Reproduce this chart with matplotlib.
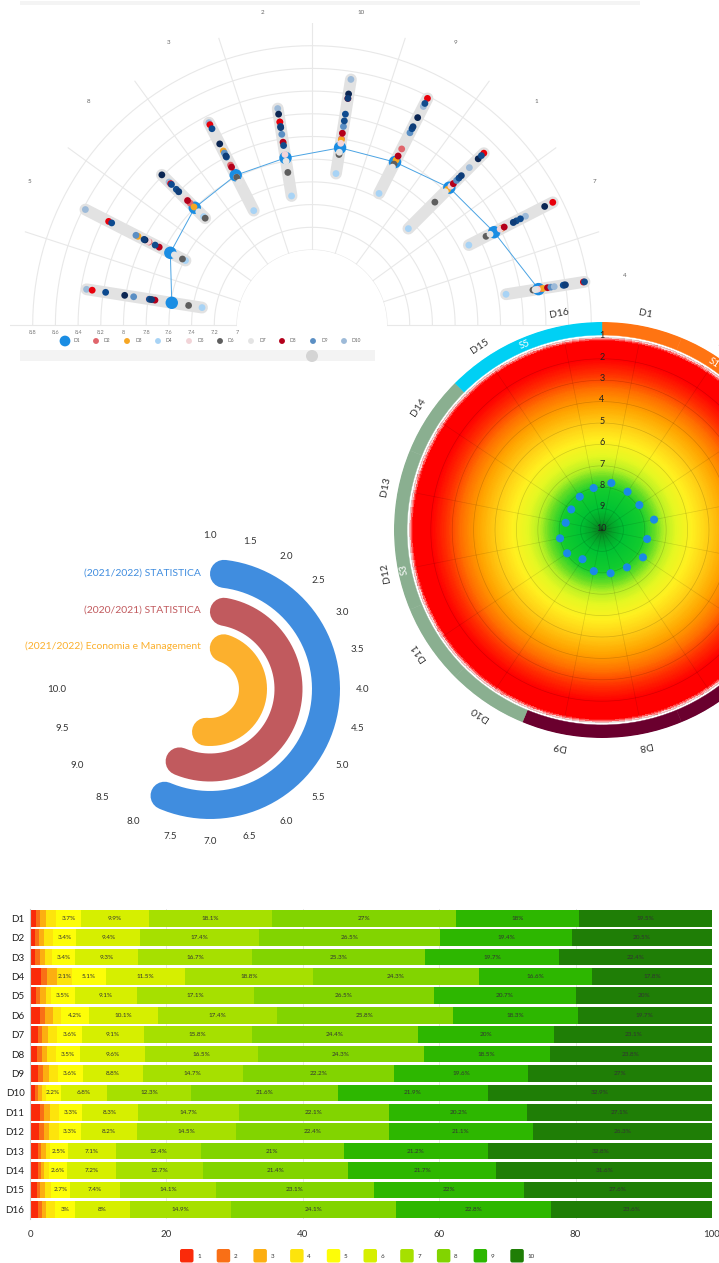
import numpy as np
import matplotlib
matplotlib.use('Agg')
import matplotlib.pyplot as plt
from matplotlib.colors import LinearSegmentedColormap, Normalize
from matplotlib.patches import FancyBboxPatch, Rectangle, Circle
from matplotlib.transforms import offset_copy

plt.rcParams['font.family'] = ['Lato', 'DejaVu Sans']

W, H = 719, 1263

# ---------------- top: polar dot plot ----------------
spoke_labels = ['4', '7', '1', '9', '10', '2', '3', '8', '5', '6']
spoke_deg = [9, 27, 45, 63, 81, 99, 117, 135, 153, 171]
r_ticks = [7.0, 7.2, 7.4, 7.6, 7.8, 8.0, 8.2, 8.4, 8.6, 8.8]

d1 = [8.36, 8.14, 8.05, 7.95, 7.92, 7.83, 7.82, 7.80, 7.74, 7.59]
d2 = [8.38, 8.22, 8.10, 8.08, 8.00, 8.15, 7.92, 7.86, 7.95, 7.76]
d3 = [8.40, 8.21, 8.03, 7.97, 7.99, 7.96, 8.06, 7.81, 8.06, 7.78]
d4 = [8.07, 7.89, 7.54, 7.64, 7.69, 7.49, 7.47, 7.69, 7.59, 7.32]
d5 = [8.35, 8.20, 8.07, 8.02, 7.96, 7.86, 7.80, 7.91, 7.96, 7.80]
d6 = [8.31, 8.06, 7.87, 7.93, 7.86, 7.70, 7.80, 7.67, 7.62, 7.44]
d7 = [8.33, 8.10, 8.00, 7.90, 7.88, 7.80, 7.75, 7.75, 7.70, 7.50]
d8 = [8.44, 8.24, 8.10, 8.01, 8.05, 7.97, 7.90, 7.89, 7.85, 7.74]
d9 = [8.47, 8.33, 8.14, 8.24, 8.11, 8.04, 8.04, 8.00, 8.08, 7.93]
d10 = [8.50, 8.45, 8.30, 8.50, 8.53, 8.27, 8.34, 8.12, 8.58, 8.35]
d11 = [8.76, 8.72, 8.48, 8.58, 8.36, 8.15, 8.32, 8.10, 8.35, 8.30]
d12 = [8.59, 8.64, 8.41, 8.39, 8.40, 8.22, 8.13, 8.21, 7.99, 8.01]
d13 = [8.58, 8.40, 8.17, 8.28, 8.22, 8.11, 8.28, 8.09, 8.32, 8.18]
d14 = [8.77, 8.36, 8.45, 8.53, 8.16, 7.94, 8.00, 8.03, 7.89, 7.79]
d15 = [8.60, 8.33, 8.20, 8.30, 8.36, 8.10, 8.01, 8.00, 8.00, 7.77]

dot_series = [d1, d2, d3, d4, d5, d6, d7, d8, d9, d10, d11, d12, d13, d14, d15]
dot_names = ['D1', 'D2', 'D3', 'D4', 'D5', 'D6', 'D7', 'D8', 'D9', 'D10',
             'D11', 'D12', 'D13', 'D14', 'D15']
dot_colors = ['#1a8de3', '#e0656c', '#f6a623', '#a8d3f5', '#f2d4d8', '#5e5e5e',
              '#e4e4e4', '#b3001b', '#5b8fc4', '#9dbad8', '#e8000b', '#0b2653',
              '#0d4a8f', '#124c8c', '#0f3d78']

# ---------------- right: gradient polar ----------------
cat_names = ['D%d' % i for i in range(1, 17)]
cat_scores = [7.76, 7.85, 7.90, 7.52, 7.85, 7.70, 7.90, 7.94,
              8.04, 8.36, 8.04, 8.00, 8.27, 8.27, 8.13, 8.00]
section_names = ['S1', 'S2', 'S4', 'S3', 'S5']
section_sizes = [3, 1, 5, 5, 2]
section_colors = ['#ff7412', '#c9a227', '#6a002e', '#8aaf90', '#00d0f4']
section_shown = [True, False, False, True, True]

# ---------------- middle: radial bars ----------------
course_names = ['(2021/2022) STATISTICA', '(2020/2021) STATISTICA',
                '(2021/2022) Economia e Management']
course_scores = [8.0, 8.1, 7.8]
course_colors = ['#408ddf', '#c15a5e', '#fcb02d']
angle_ticks = np.arange(1.0, 10.01, 0.5)

# ---------------- bottom: stacked bars ----------------
rows = ['D%d' % i for i in range(1, 17)]
grades = ['1', '2', '3', '4', '5', '6', '7', '8', '9', '10']
g1 = [0.9, 0.7, 0.8, 1.6, 0.9, 1.4, 1.1, 1.0, 1.2, 0.7, 1.4, 1.3, 1.1, 1.1, 1.0, 1.1]
g2 = [0.6, 0.6, 0.6, 0.9, 0.6, 0.8, 0.7, 0.7, 0.7, 0.5, 0.7, 0.7, 0.5, 0.5, 0.5, 0.6]
g3 = [0.9, 0.7, 0.8, 1.5, 0.8, 1.1, 0.9, 0.8, 0.9, 0.5, 0.8, 0.8, 0.7, 0.5, 0.7, 0.7]
g4 = [1.4, 1.4, 1.0, 2.1, 0.8, 1.2, 1.3, 1.3, 1.3, 0.6, 1.4, 1.4, 0.7, 0.7, 0.9, 1.2]
g5 = [3.7, 3.4, 3.4, 5.1, 3.5, 4.2, 3.6, 3.5, 3.6, 2.2, 3.3, 3.3, 2.5, 2.6, 2.7, 3.0]
g6 = [9.9, 9.4, 9.3, 11.5, 9.1, 10.1, 9.1, 9.6, 8.8, 6.8, 8.3, 8.2, 7.1, 7.2, 7.4, 8.0]
g7 = [18.1, 17.4, 16.7, 18.8, 17.1, 17.4, 15.8, 16.5, 14.7, 12.3, 14.7, 14.5, 12.4, 12.7, 14.1, 14.9]
g8 = [27, 26.5, 25.3, 24.3, 26.5, 25.8, 24.4, 24.3, 22.2, 21.6, 22.1, 22.4, 21, 21.4, 23.1, 24.1]
g9 = [18, 19.4, 19.7, 16.6, 20.7, 18.3, 20, 18.5, 19.6, 21.9, 20.2, 21.1, 21.2, 21.7, 22, 22.8]
g10 = [19.5, 20.5, 22.4, 17.8, 20, 19.7, 23.1, 23.8, 27, 32.9, 27.1, 26.3, 32.8, 31.6, 27.6, 23.6]
grade_shares = [g1, g2, g3, g4, g5, g6, g7, g8, g9, g10]
grade_colors = ['#fa2a0a', '#f96f16', '#fcae11', '#fde40c', '#fdfd08',
                '#d6ef00', '#a6e000', '#82d400', '#2db700', '#1f7e06']


fig = plt.figure(figsize=(W / 100, H / 100), dpi=100)


def px_axes(x0, y0, w, h, **kw):
    """axes from a pixel box measured from the top-left corner"""
    return fig.add_axes([x0 / W, 1 - (y0 + h) / H, w / W, h / H], **kw)


# background overlay in pixel units for legends / decorations
bg = fig.add_axes([0, 0, 1, 1], zorder=-5)
bg.set_xlim(0, W)
bg.set_ylim(H, 0)
bg.axis('off')

# ===== top polar dot plot (upper half of a full polar axes) =====
ax1 = px_axes(312 - 302, 325 - 302, 604, 604, projection='polar')
ax1.set_rlim(7, 9)
ax1.set_rorigin(6.339)
ax1.axis('off')

half = np.linspace(0, np.pi, 181)
for v in r_ticks:
    ax1.plot(half, np.full_like(half, v), color='#e8e8e8', lw=0.8, zorder=1)
for a in np.deg2rad(np.arange(0, 181, 18)):
    ax1.plot([a, a], [7, 9], color='#e8e8e8', lw=0.8, zorder=1)

th = np.deg2rad(spoke_deg)
for i, t in enumerate(th):
    vals = [s[i] for s in dot_series]
    ax1.plot([t, t], [min(vals), max(vals)], color='#e2e2e2', lw=8.5,
             solid_capstyle='round', zorder=2)
ax1.plot(th, d1, color='#4aa3e3', lw=0.7, zorder=3)
for k, (s, c) in enumerate(zip(dot_series, dot_colors)):
    ax1.scatter(th, s, s=80 if k == 0 else 24, color=c, edgecolors='none',
                zorder=4 + k, clip_on=False)

for t, lab in zip(th[:9], spoke_labels[:9]):
    ax1.text(t, 9.13, lab, ha='center', va='center', fontsize=4.5, color='#666')
below = offset_copy(ax1.transData, fig=fig, x=0, y=-7, units='dots')
for v in r_ticks:
    ax1.text(np.pi, v, '%g' % round(v, 1), transform=below, ha='center',
             va='center', fontsize=4, color='#777', clip_on=False)

# legend row + slider
bg.add_patch(Rectangle((20, 1), 620, 4, color='#f4f4f4', lw=0))
for i, (nm, c) in enumerate(zip(dot_names[:10], dot_colors[:10])):
    x = 65 + 31 * i
    bg.scatter([x], [341], s=60 if i == 0 else 18, color=c, edgecolors='none')
    bg.text(x + 8, 341, nm, fontsize=3.5, color='#666', va='center', ha='left')
bg.add_patch(Rectangle((20, 350), 355, 11, color='#f3f3f3', lw=0))
bg.add_patch(Circle((312, 356), 6, color='#d4d4d4', lw=0))

# ===== right gradient polar =====
axR = px_axes(602 - 208, 530 - 208, 416, 416, projection='polar')
axR.set_theta_zero_location('N')
axR.set_theta_direction(-1)
axR.set_ylim(10, 0.28)
axR.axis('off')

stops = [(1.0, '#ffd2d2'), (1.12, '#ff0000'), (2.0, '#ff0000'), (2.7, '#ff3000'),
         (3.4, '#ff7000'), (4.2, '#ffa400'), (5.0, '#ffcc14'), (5.8, '#fff020'),
         (6.5, '#e6f722'), (7.1, '#b4f024'), (7.5, '#6ade24'), (8.1, '#12cc2e'),
         (9.0, '#00c232'), (9.5, '#04a52a'), (10.0, '#0a7a1e')]
grad = LinearSegmentedColormap.from_list('grad', [((v - 1) / 9, c) for v, c in stops])
th_e = np.linspace(0, 2 * np.pi, 361)
r_e = np.linspace(10, 1, 300)
rc = 0.5 * (r_e[1:] + r_e[:-1])
C = np.repeat(rc[:, None], 360, axis=1)
axR.pcolormesh(th_e, r_e, C, cmap=grad, norm=Normalize(1, 10), shading='flat',
               antialiased=False, rasterized=True, zorder=1)

cat_th = np.deg2rad(11.25 + 22.5 * np.arange(16))
circ = np.linspace(0, 2 * np.pi, 361)
for v in range(1, 10):
    axR.plot(circ, np.full_like(circ, v), color='#000000', alpha=0.16, lw=0.5, zorder=2)
for t in cat_th:
    axR.plot([t, t], [10, 1], color='#000000', alpha=0.12, lw=0.5, zorder=2)

axR.scatter(cat_th, cat_scores, s=34, color='#1a8ae6', edgecolors='none', zorder=5)

band_colors = []
for c, n in zip(section_colors, section_sizes):
    band_colors += [c] * n
axR.bar(cat_th, 0.61, width=2 * np.pi / 16, bottom=0.28, color=band_colors,
        edgecolor=band_colors, lw=0.3, zorder=3)

start = 0
for nm, n, show in zip(section_names, section_sizes, section_shown):
    mid = (start + n / 2) * 22.5
    start += n
    if show:
        axR.text(np.deg2rad(mid), 0.6, nm, color='white', fontsize=7,
                 rotation=-mid, rotation_mode='anchor', ha='center', va='center', zorder=6)

for v in range(1, 11):
    axR.text(0, v - 0.08, str(v), ha='center', va='center', fontsize=6.5,
             color='#222', zorder=6)
for t, nm in zip(cat_th, cat_names):
    deg = np.rad2deg(t)
    axR.text(t, -0.3, nm, ha='center', va='center', fontsize=7.5, color='#333',
             rotation=-deg, rotation_mode='anchor', clip_on=False)

# ===== middle radial bars =====
axB = px_axes(210 - 165, 689 - 165, 330, 330, projection='polar')
axB.set_theta_zero_location('N')
axB.set_theta_direction(-1)
axB.set_ylim(0, 165)
axB.axis('off')


def ang(v):
    return (np.asarray(v) - 1.0) / 12.0 * 2 * np.pi


ring_r = [116, 78.5, 43]
ring_w = 28
for nm, v, c, r in zip(course_names, course_scores, course_colors, ring_r):
    cap = ring_w / 2 / r
    t = np.linspace(cap, ang(v) - cap, 200)
    axB.plot(t, np.full_like(t, r), color=c, lw=ring_w * 0.72,
             solid_capstyle='round')
    axB.annotate(nm, xy=(0, r), xytext=(-9, 0), textcoords='offset pixels',
                 ha='right', va='center', fontsize=7.5, color=c)
for v in angle_ticks:
    axB.text(ang(v), 153, '%.1f' % v, ha='center', va='center', fontsize=7,
             color='#333')

# ===== bottom stacked bars =====
axS = px_axes(30, 908.5, 682, 310.5)
y = np.arange(len(rows))
left = np.zeros(len(rows))
for k, (share, c) in enumerate(zip(grade_shares, grade_colors)):
    share = np.asarray(share, dtype=float)
    axS.barh(y, share, left=left, height=0.86, color=c, lw=0, zorder=2)
    for yi, (l, s) in enumerate(zip(left, share)):
        if s >= 2:
            axS.text(l + s / 2, yi, '%g%%' % s, ha='center', va='center',
                     fontsize=4.6, color='#333', zorder=3)
    left = left + share

axS.set_xlim(0, 100)
axS.set_ylim(len(rows) - 0.5, -0.5)
axS.set_yticks(y)
axS.set_yticklabels(rows, fontsize=7, color='#222')
axS.set_xticks([0, 20, 40, 60, 80, 100])
axS.tick_params(axis='x', length=0, pad=8, labelsize=7, labelcolor='#333')
axS.tick_params(axis='y', length=0, pad=4)
axS.grid(axis='x', color='#e3e3e3', lw=0.6)
axS.set_axisbelow(True)
for s in ['top', 'right', 'bottom']:
    axS.spines[s].set_visible(False)
axS.spines['left'].set_color('#cccccc')
axS.spines['left'].set_linewidth(0.8)

for i, (g, c) in enumerate(zip(grades, grade_colors)):
    x = 180 + 36.7 * i
    bg.add_patch(FancyBboxPatch((x, 1249), 13.5, 13.5,
                                boxstyle='round,pad=0,rounding_size=2',
                                color=c, lw=0))
    bg.text(x + 17, 1256, g, fontsize=4.5, color='#333', va='center', ha='left')

fig.savefig('out.png', dpi=100)
